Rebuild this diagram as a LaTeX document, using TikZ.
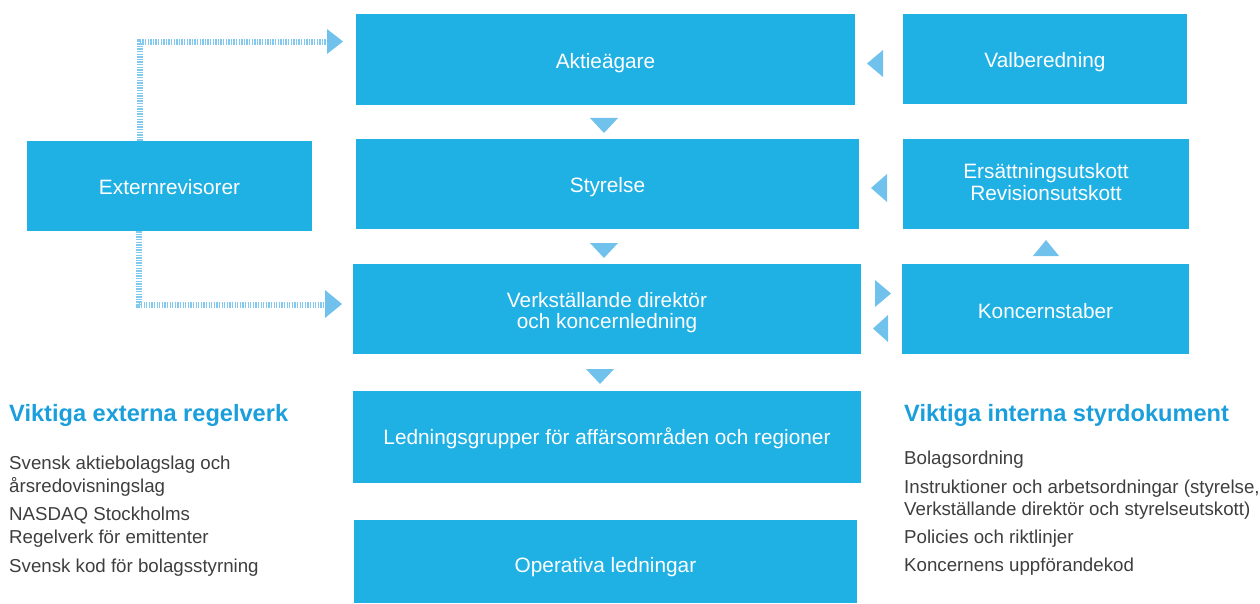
\documentclass[tikz,border=0pt]{standalone}
\usepackage{fontspec}
\setmainfont{Liberation Sans}
\definecolor{boxblue}{RGB}{31,176,228}
\definecolor{headblue}{RGB}{26,158,220}
\definecolor{tricol}{RGB}{112,193,236}
\definecolor{dotcol}{RGB}{130,201,240}
\definecolor{bodygray}{RGB}{62,62,62}
\begin{document}
\begin{tikzpicture}[x=1pt,y=-1pt,
  box/.style={fill=boxblue, draw=none, inner sep=0pt},
  boxtext/.style={text=white, align=center, inner sep=0pt,
    font=\fontsize{20.8}{21.5}\selectfont},
  tri/.style={fill=tricol, draw=none},
  dotline/.style={draw=dotcol, line width=6pt, dash pattern=on 1.3pt off 1.3pt},
  head/.style={anchor=base west, inner sep=0pt, text=headblue, font=\bfseries\fontsize{23.6}{26}\selectfont},
  body/.style={anchor=base west, inner sep=0pt, text=bodygray, font=\fontsize{18.7}{22}\selectfont}
]
\useasboundingbox (0,0) rectangle (1260,604);

% boxes
\node[box, minimum width=499pt, minimum height=91pt] (akt) at (605.5,59.5) {};
\node[box, minimum width=284pt, minimum height=90pt] (val) at (1045,59) {};
\node[box, minimum width=285pt, minimum height=90pt] (ext) at (169.5,186) {};
\node[box, minimum width=503pt, minimum height=90pt] (sty) at (607.5,184) {};
\node[box, minimum width=286pt, minimum height=90pt] (ers) at (1046,184) {};
\node[box, minimum width=508pt, minimum height=90pt] (vd) at (607,309) {};
\node[box, minimum width=287pt, minimum height=90pt] (kon) at (1045.5,309) {};
\node[box, minimum width=508pt, minimum height=92pt] (led) at (607,437) {};
\node[box, minimum width=503pt, minimum height=83pt] (ope) at (605.5,561.5) {};

% box texts
\node[boxtext, yshift=-3.5pt] (akt-t) at (akt.center) {Aktieägare};
\node[boxtext, yshift=-3pt] (val-t) at (val.center) {Valberedning};
\node[boxtext, yshift=-1pt] (ext-t) at (ext.center) {Externrevisorer};
\node[boxtext, yshift=-3pt] (sty-t) at (sty.center) {Styrelse};
\node[boxtext, yshift=2pt] (ers-t) at (ers.center) {Ersättningsutskott\\Revisionsutskott};
\node[boxtext, yshift=-3.5pt] (vd-t) at (vd.center) {Verkställande direktör\\och koncernledning};
\node[boxtext, yshift=-2pt] (kon-t) at (kon.center) {Koncernstaber};
\node[boxtext, yshift=-1.5pt] (led-t) at (led.center) {Ledningsgrupper för affärsområden och regioner};
\node[boxtext, yshift=-6pt] (ope-t) at (ope.center) {Operativa ledningar};

% dotted connectors
\coordinate (c1) at (328,42);
\coordinate (c2) at (326,304.5);
\draw[dotline] ([xshift=113pt]ext.north west) |- (c1);
\draw[dotline] ([xshift=112pt]ext.south west) |- (c2);
\fill[tri] (327,29) -- (343,41.5) -- (327,54) -- cycle;
\fill[tri] (325,290) -- (342,304) -- (325,318) -- cycle;

% triangles
\fill[tri] (590,118) -- (618,118) -- (604,133) -- cycle;
\fill[tri] (590,243) -- (618,243) -- (604,258) -- cycle;
\fill[tri] (586,369) -- (614,369) -- (600,384) -- cycle;
\fill[tri] (883,50) -- (883,77) -- (867,63.5) -- cycle;
\fill[tri] (887,174) -- (887,202) -- (871,188) -- cycle;
\fill[tri] (875,280) -- (875,307) -- (891,293.5) -- cycle;
\fill[tri] (888,315) -- (888,342) -- (873,328.5) -- cycle;
\fill[tri] (1033,256) -- (1059,256) -- (1046,240) -- cycle;

% left texts
\node[head] (lh) at (9,421) {Viktiga externa regelverk};
\node[body] (l1) at (9,469) {Svensk aktiebolagslag och};
\node[body] (l2) at (9,492) {årsredovisningslag};
\node[body] (l3) at (9,520) {NASDAQ Stockholms};
\node[body] (l4) at (9,543) {Regelverk för emittenter};
\node[body] (l5) at (9,572) {Svensk kod för bolagsstyrning};

% right texts
\node[head] (rh) at (904,421) {Viktiga interna styrdokument};
\node[body] (r1) at (904,464) {Bolagsordning};
\node[body] (r2) at (904,493) {Instruktioner och arbetsordningar (styrelse,};
\node[body] (r3) at (904,515) {Verkställande direktör och styrelseutskott)};
\node[body] (r4) at (904,543) {Policies och riktlinjer};
\node[body] (r5) at (904,571) {Koncernens uppförandekod};
\end{tikzpicture}
\end{document}
